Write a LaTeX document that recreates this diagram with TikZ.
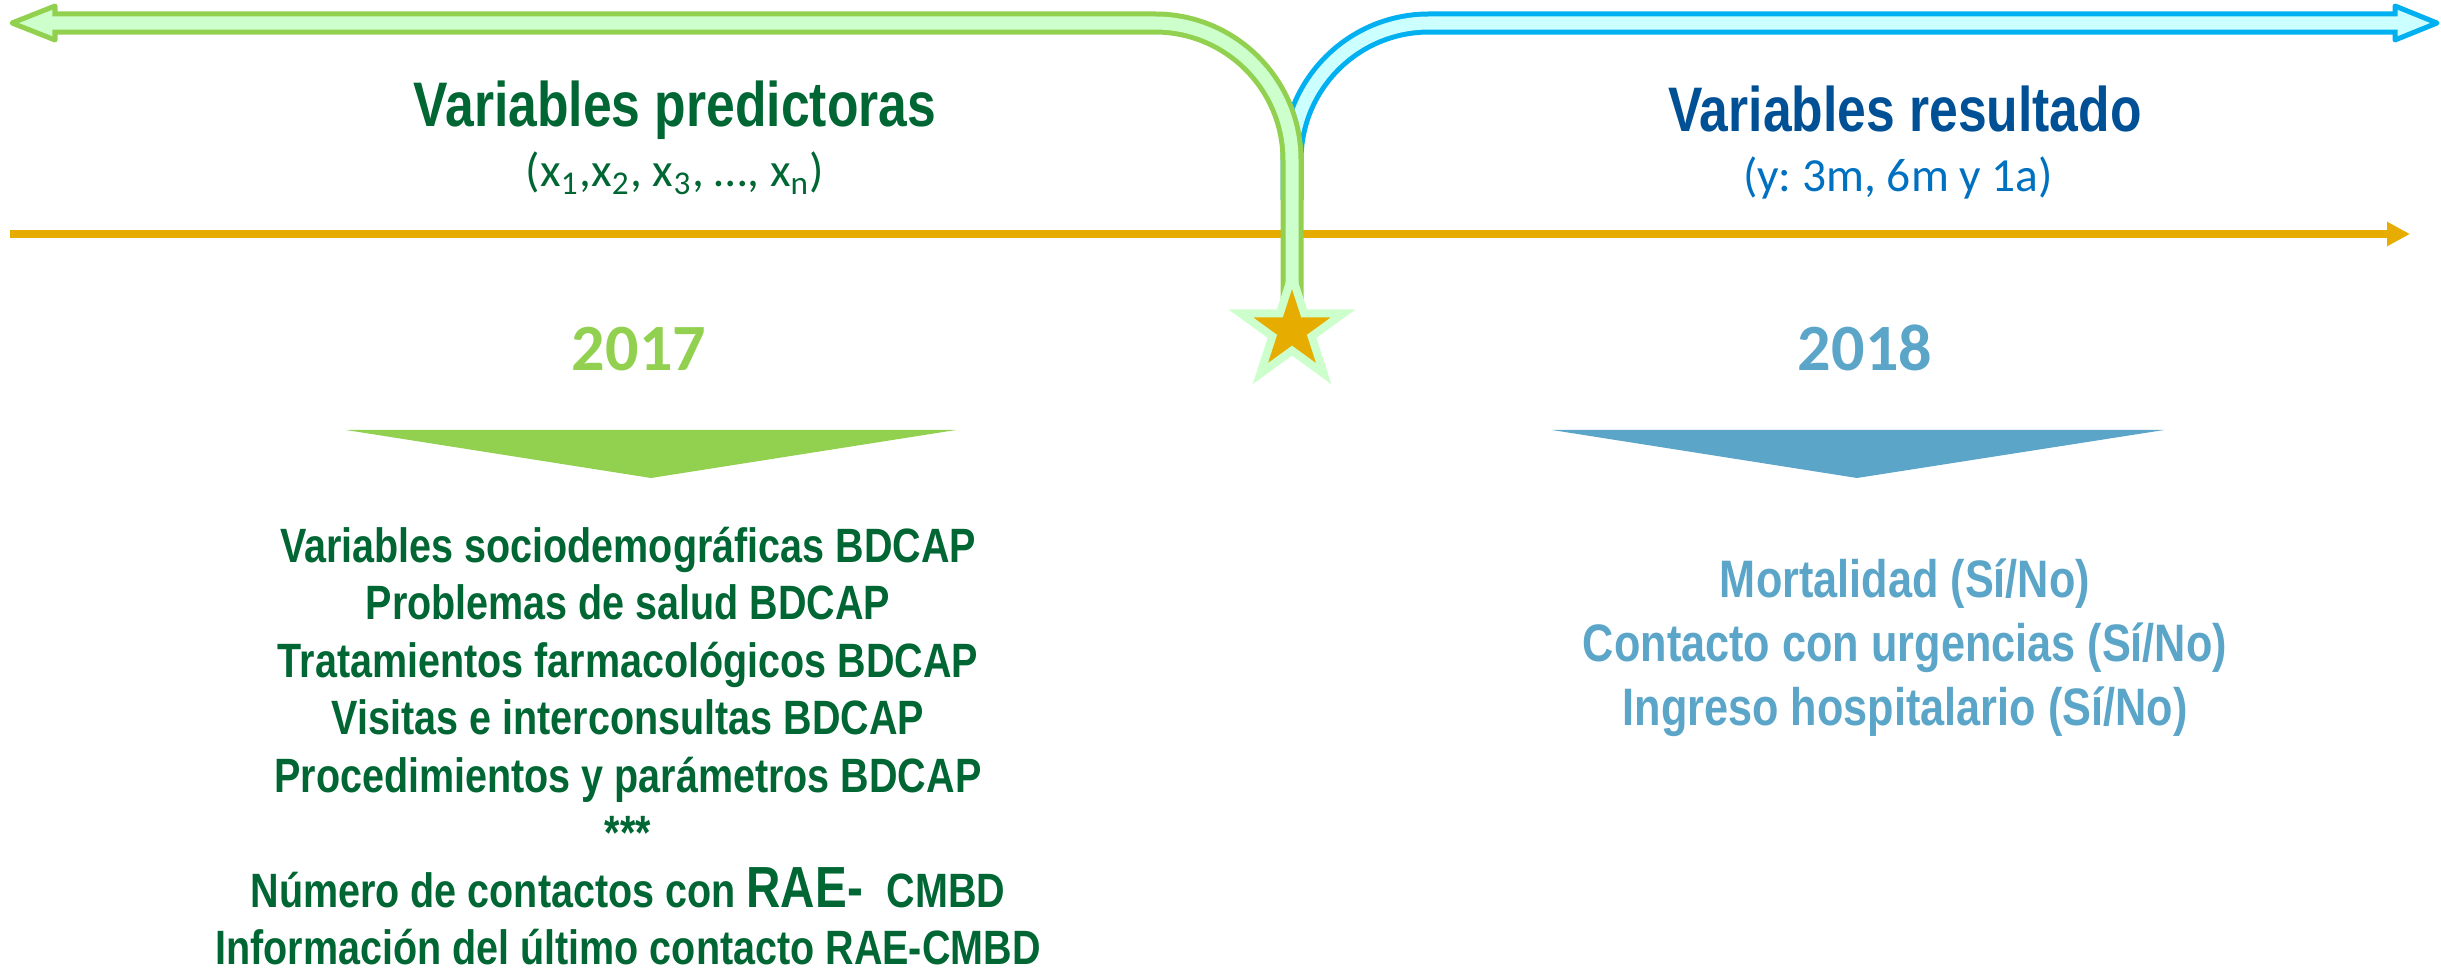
\documentclass[tikz,border=0pt]{standalone}
\usepackage{fontspec}
\setmainfont{Liberation Sans}
\newfontfamily\estrecha{Liberation Sans}[FakeStretch=0.82]
\newfontfamily\calibri{Carlito}
\usetikzlibrary{arrows.meta,shapes.geometric}
\definecolor{gborde}{HTML}{92D050}
\definecolor{grelleno}{HTML}{CCFFCC}
\definecolor{aborde}{HTML}{00B0F0}
\definecolor{arelleno}{HTML}{CCFFFF}
\definecolor{naranja}{HTML}{E6AC00}
\definecolor{verdeosc}{HTML}{006633}
\definecolor{azulosc}{HTML}{005095}
\definecolor{azul}{HTML}{0070C0}
\definecolor{azulclaro}{HTML}{5BA5C9}
\begin{document}
\frenchspacing
\begin{tikzpicture}[x=0.01cm, y=0.01cm,
    titulo/.style={anchor=base, inner sep=0pt, font=\estrecha\bfseries\fontsize{17.9}{20}\selectfont},
    subtitulo/.style={anchor=base, inner sep=0pt, font=\calibri\fontsize{13.5}{16}\selectfont},
    anio/.style={anchor=base, inner sep=0pt, font=\calibri\bfseries\fontsize{18.8}{22}\selectfont},
    lista/.style={anchor=base, inner sep=0pt, font=\estrecha\bfseries\fontsize{13.7}{16}\selectfont},
    listader/.style={anchor=base, inner sep=0pt, font=\estrecha\bfseries\fontsize{15}{18}\selectfont},
    cinta/.style={line width=0.23cm},
    relleno/.style={line width=0.13cm},
    punta/.style={line width=0.05cm, line join=round}]
  \useasboundingbox (0,0) rectangle (2441,-973);
  \coordinate (inicio) at (10,-234);
  \coordinate (fin) at (2410,-234);
  \draw [naranja, line width=0.07cm, -{Triangle[length=0.23cm, width=0.23cm]}] (inicio) -- (fin);
  \draw [aborde, cinta] (1292,-200) -- (1292,-160) arc (180:90:137) -- (2395,-23);
  \draw [fill=arelleno, draw=aborde, punta] (2395,-6) -- (2437,-23) -- (2395,-40) -- cycle;
  \draw [arelleno, relleno] (1292,-200) -- (1292,-160) arc (180:90:137) -- (2405,-23);
  \draw [gborde, cinta] (55,-23) -- (1155,-23) arc (90:0:137) -- (1292,-310);
  \draw [fill=grelleno, draw=gborde, punta] (55,-6) -- (12,-23) -- (55,-40) -- cycle;
  \draw [grelleno, relleno] (45,-23) -- (1155,-23) arc (90:0:137) -- (1292,-310);
  \node (hito) [star, star points=5, star point ratio=2.618, minimum size=1.08cm, inner sep=0pt,
    fill=naranja, draw=grelleno, line width=0.08cm] at (1292,-330) {};
  \node (tituloizq) [titulo, verdeosc] at (675,-127) {Variables predictoras};
  \node (xs) [subtitulo, verdeosc] at (675,-187)
    {(x\textsubscript{1},x\textsubscript{2}, x\textsubscript{3}, …, x\textsubscript{n})};
  \node (tituloder) [titulo, azulosc] at (1905,-132) {Variables resultado};
  \node (ys) [subtitulo, azul] at (1898,-192) {(y: 3m, 6m y 1a)};
  \node (a2017) [anio, gborde] at (639,-370) {2017};
  \node (a2018) [anio, azulclaro] at (1865,-370) {2018};
  \fill [gborde] (346,-430) -- (956,-430) -- (651,-478) -- cycle;
  \fill [azulclaro] (1552,-430) -- (2164,-430) -- (1857,-478) -- cycle;
  \foreach \t [count=\i] in {Variables sociodemográficas BDCAP, Problemas de salud BDCAP,
      Tratamientos farmacológicos BDCAP, Visitas e interconsultas BDCAP,
      Procedimientos y parámetros BDCAP, ***,
      {Número de contactos con {\fontsize{16.5}{18}\selectfont RAE-}\hspace{0.5em}CMBD},
      Información del último contacto RAE-CMBD}
    \node (izq\i) [lista, verdeosc] at (628,-504.5-57.5*\i) {\t};
  \foreach \t [count=\i] in {Mortalidad (Sí/No), Contacto con urgencias (Sí/No), Ingreso hospitalario (Sí/No)}
    \node (der\i) [listader, azulclaro] at (1905,-533-64*\i) {\t};
\end{tikzpicture}
\end{document}
